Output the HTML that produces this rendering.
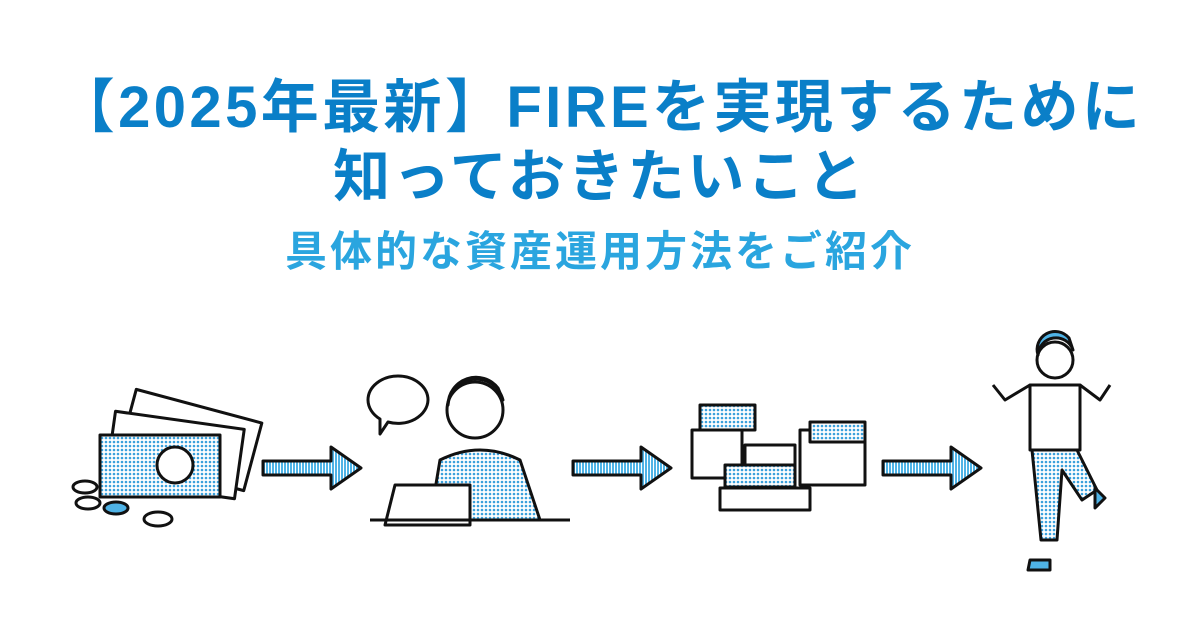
<!DOCTYPE html>
<html><head><meta charset="utf-8"><style>
body{margin:0;width:1200px;height:630px;background:#fff;overflow:hidden;position:relative;font-family:"Liberation Sans","Noto Sans CJK JP",sans-serif;font-weight:bold}
.t{position:absolute;left:0;width:1200px;text-align:center;white-space:nowrap}
#l1{top:60px;font-size:58px;color:#0a7fc8;letter-spacing:3.4px}
#l2{top:131px;font-size:57px;color:#0a7fc8;letter-spacing:2.8px}
#l3{top:218px;font-size:42px;color:#2aa5df;letter-spacing:3px}
svg{position:absolute;left:0;top:0}
</style></head><body>
<div class="t" id="l1">【2025年最新】FIREを実現するために</div>
<div class="t" id="l2">知っておきたいこと</div>
<div class="t" id="l3">具体的な資産運用方法をご紹介</div>
<svg width="1200" height="630" viewBox="0 0 1200 630">
<defs>
<pattern id="d" width="3" height="3" patternUnits="userSpaceOnUse"><rect width="3" height="3" fill="#fff"/><rect width="2" height="3" fill="#4fb3e6"/></pattern>
<pattern id="dt" width="4" height="4" patternUnits="userSpaceOnUse"><rect width="4" height="4" fill="#fff"/><circle cx="2" cy="2" r="1.3" fill="#3aa0dc"/></pattern>
<g id="ar"><path d="M0,6 H68 V-8 L98,13 L68,34 V20 H0 Z" transform="translate(0,-7)" fill="url(#d)" stroke="#111" stroke-width="3" stroke-linejoin="round"/></g>
</defs>
<g stroke="#111" stroke-width="3" stroke-linejoin="round">
<rect x="125" y="405" width="130" height="70" transform="rotate(15 190 440)" fill="#fff"/>
<rect x="110" y="420" width="130" height="70" transform="rotate(8 175 455)" fill="#fff"/>
<rect x="100" y="435" width="120" height="62" fill="url(#dt)"/>
<circle cx="175" cy="465" r="18" fill="#fff"/>
<ellipse cx="85" cy="487" rx="12" ry="6" fill="#fff"/>
<ellipse cx="88" cy="503" rx="12" ry="6" fill="#fff"/>
<ellipse cx="116" cy="508" rx="12" ry="6" fill="#4fb3e6"/>
<ellipse cx="158" cy="519" rx="14" ry="7" fill="#fff"/>
<path d="M368,400 a30,24 0 1 1 60,0 a30,24 0 0 1 -40,22 l-8,12 l0,-15 a30,24 0 0 1 -12,-19z" fill="#fff"/>
<circle cx="475" cy="410" r="28" fill="#fff"/>
<path d="M448,405 a28,28 0 0 1 55,-5 l-5,-12 a28,28 0 0 0 -50,17z" fill="#4fb3e6"/>
<path d="M440,460 q40,-20 80,0 l20,60 h-110z" fill="url(#dt)"/>
<path d="M395,485 h75 v40 h-85z" fill="#fff"/>
<line x1="370" y1="520" x2="570" y2="520"/>
<rect x="692" y="430" width="50" height="48" fill="#fff"/>
<rect x="800" y="430" width="65" height="55" fill="#fff"/>
<rect x="745" y="445" width="50" height="40" fill="#fff"/>
<rect x="700" y="405" width="55" height="25" fill="url(#dt)"/>
<rect x="810" y="422" width="55" height="20" fill="url(#dt)"/>
<rect x="725" y="465" width="70" height="22" fill="url(#dt)"/>
<rect x="720" y="488" width="90" height="22" fill="#fff"/>
<circle cx="1055" cy="360" r="18" fill="#fff"/>
<path d="M1038,355 a18,18 0 0 1 35,-5 l-4,-12 a18,18 0 0 0 -31,17z" fill="#4fb3e6"/>
<path d="M1030,385 h50 l0,65 h-50z" fill="#fff"/>
<path d="M1030,385 l-25,15 l-12,-15 M1080,385 l20,15 l10,-15" fill="none"/>
<path d="M1032,450 h45 l20,40 l-15,10 l-20,-30 l-5,70 h-16 z" fill="url(#dt)"/>
<path d="M1030,560 h20 v10 h-22z M1095,488 l10,10 l-10,10z" fill="#4fb3e6"/>
</g>
<use href="#ar" x="263" y="462"/>
<use href="#ar" x="573" y="462"/>
<use href="#ar" x="883" y="462"/>
</svg>
</body></html>
